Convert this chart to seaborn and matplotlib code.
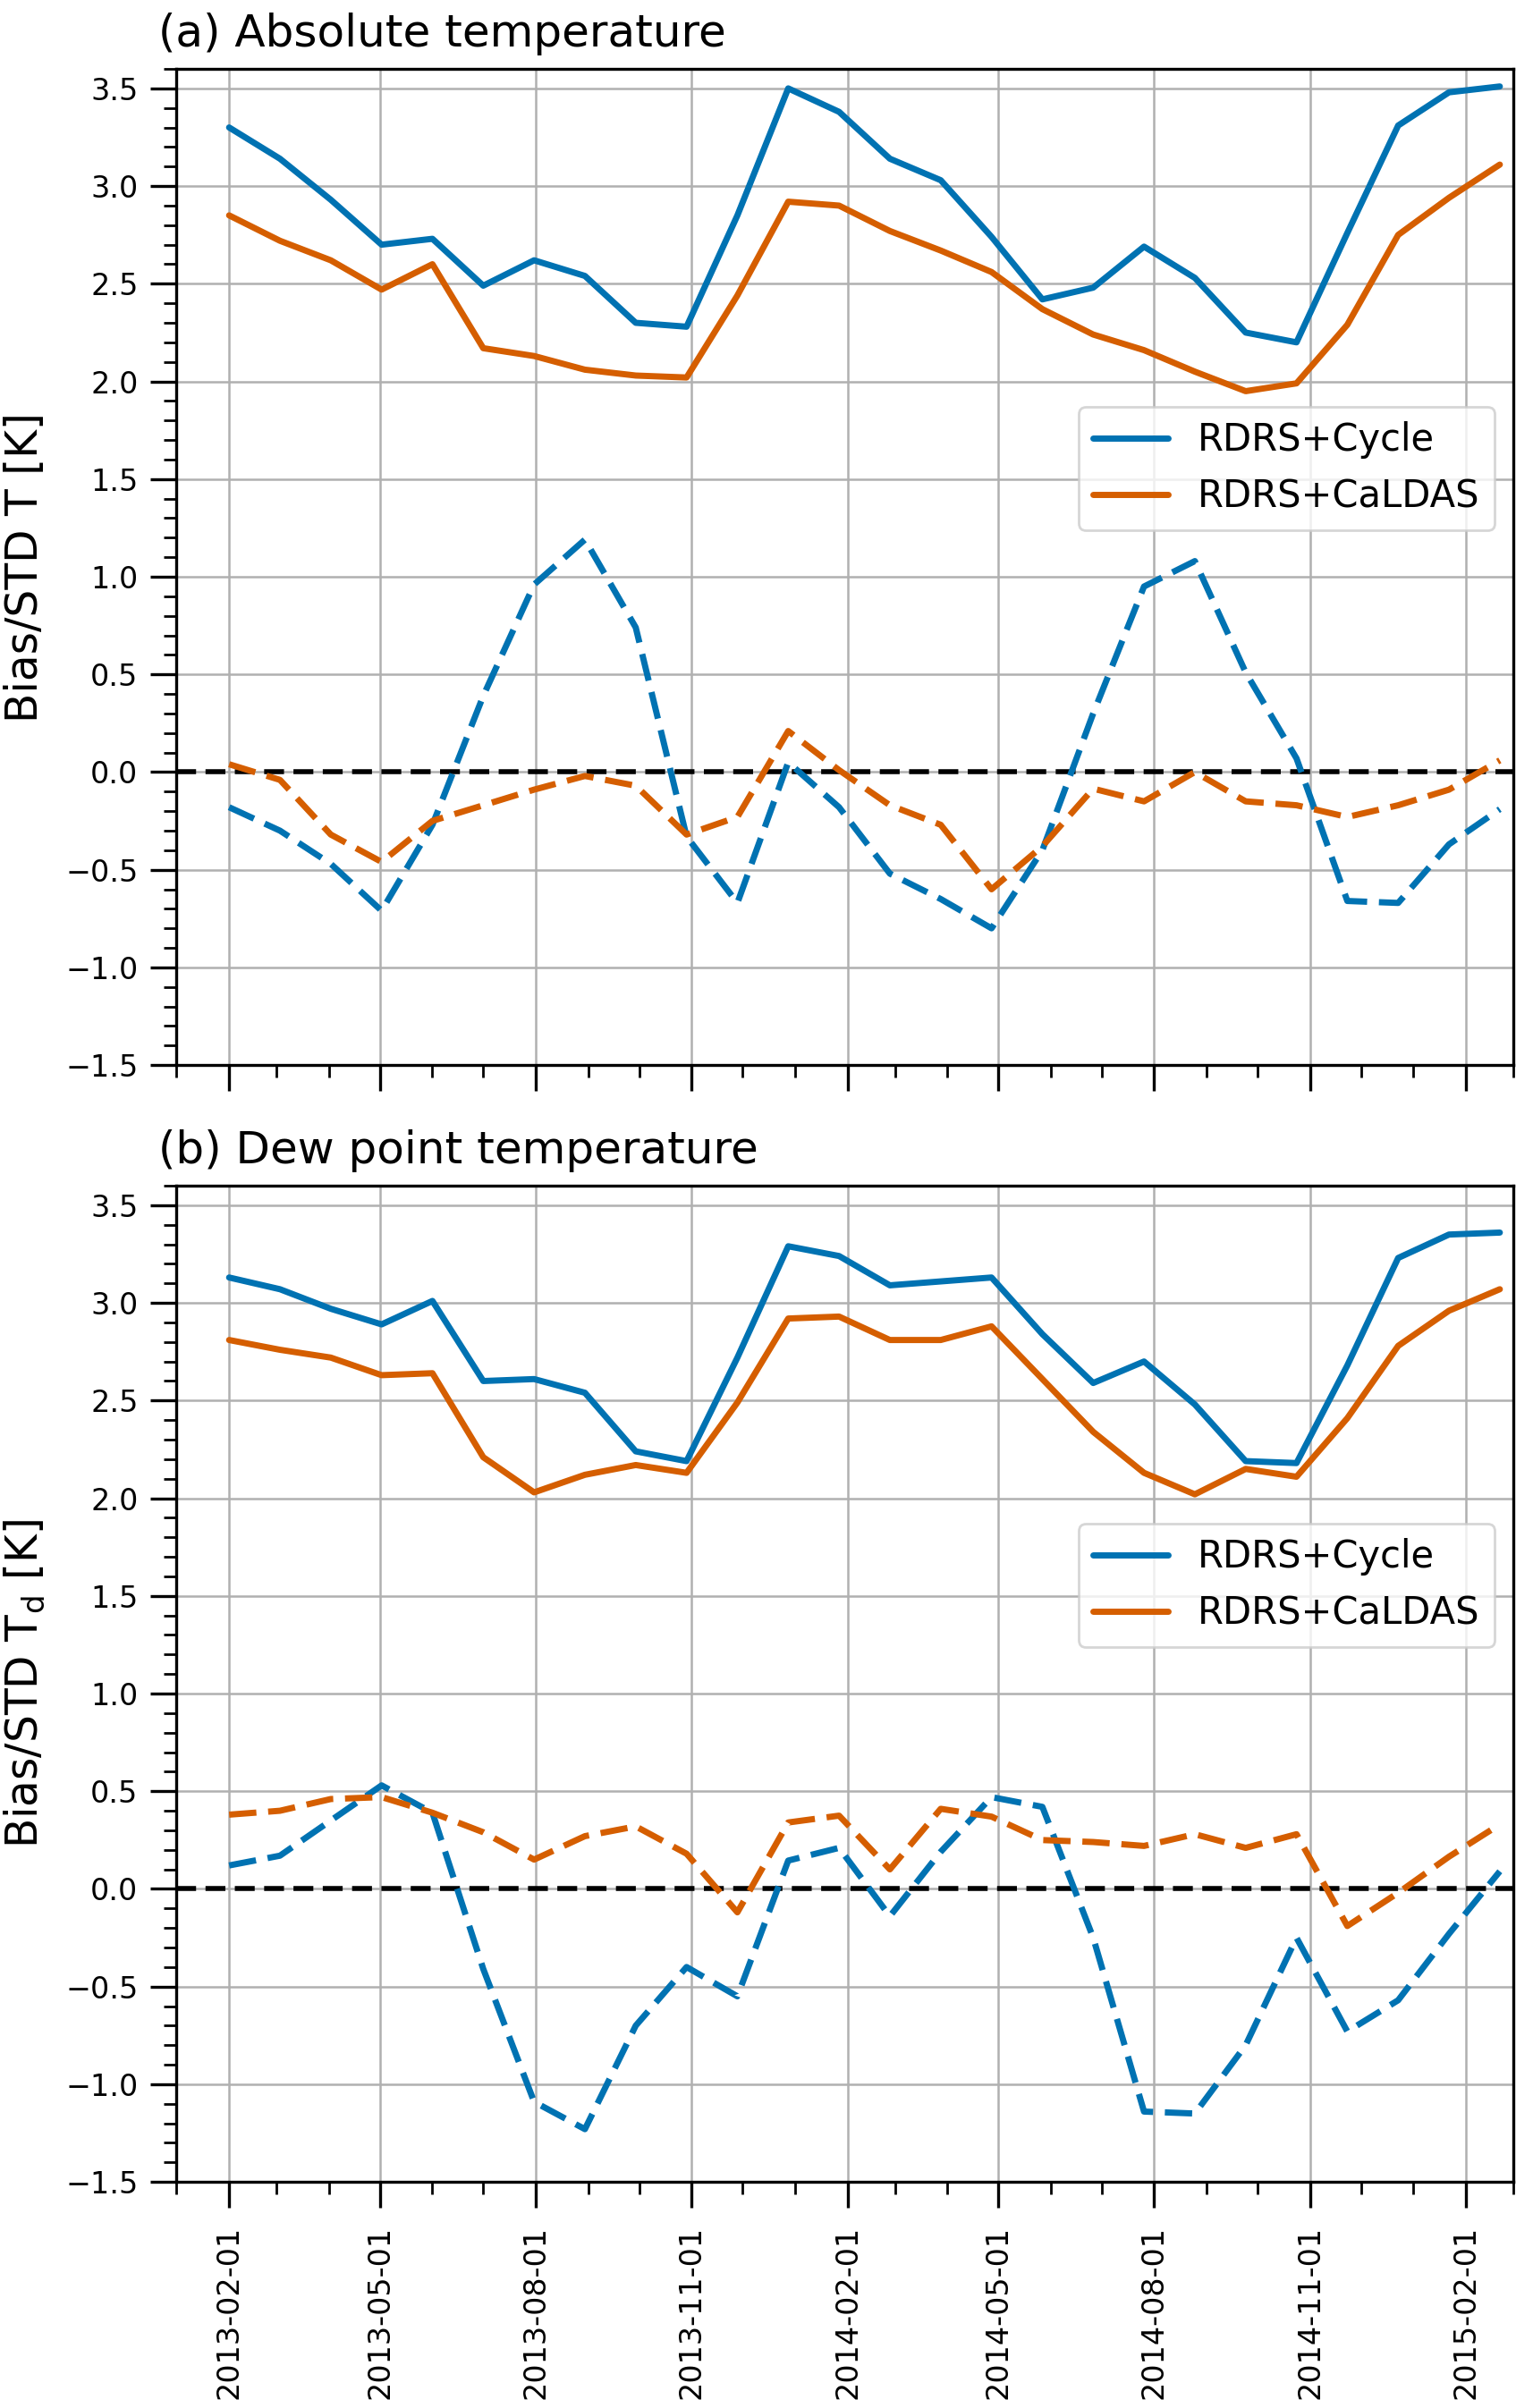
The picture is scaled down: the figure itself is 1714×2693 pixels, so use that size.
import numpy as np
import pandas as pd
import matplotlib
matplotlib.use('Agg')
import matplotlib.pyplot as plt
import matplotlib.dates as mdates
from matplotlib.ticker import MultipleLocator
import seaborn as sns

# 30-day windows starting 2013-02-01
dates = pd.date_range('2013-02-01', periods=26, freq='30D')

# (a) absolute temperature
std_t_cycle = [3.30, 3.14, 2.93, 2.70, 2.73, 2.49, 2.62, 2.54, 2.30, 2.28, 2.85, 3.50, 3.38,
               3.14, 3.03, 2.74, 2.42, 2.48, 2.69, 2.53, 2.25, 2.20, 2.76, 3.31, 3.48, 3.51]
std_t_caldas = [2.85, 2.72, 2.62, 2.47, 2.60, 2.17, 2.13, 2.06, 2.03, 2.02, 2.44, 2.92, 2.90,
                2.77, 2.67, 2.56, 2.37, 2.24, 2.16, 2.05, 1.95, 1.99, 2.29, 2.75, 2.94, 3.11]
bias_t_cycle = [-0.18, -0.30, -0.47, -0.71, -0.27, 0.39, 0.96, 1.19, 0.74, -0.33, -0.67, 0.05, -0.18,
                -0.52, -0.65, -0.80, -0.40, 0.30, 0.95, 1.08, 0.51, 0.07, -0.66, -0.67, -0.37, -0.19]
bias_t_caldas = [0.04, -0.04, -0.32, -0.46, -0.25, -0.17, -0.09, -0.02, -0.07, -0.32, -0.23, 0.21, 0.01,
                 -0.17, -0.27, -0.60, -0.38, -0.085, -0.15, 0.00, -0.15, -0.17, -0.23, -0.17, -0.09, 0.06]

# (b) dew point temperature
std_td_cycle = [3.13, 3.07, 2.97, 2.89, 3.01, 2.60, 2.61, 2.54, 2.24, 2.19, 2.72, 3.29, 3.24,
                3.09, 3.11, 3.13, 2.84, 2.59, 2.70, 2.48, 2.19, 2.18, 2.68, 3.23, 3.35, 3.36]
std_td_caldas = [2.81, 2.76, 2.72, 2.63, 2.64, 2.21, 2.03, 2.12, 2.17, 2.13, 2.49, 2.92, 2.93,
                 2.81, 2.81, 2.88, 2.61, 2.34, 2.13, 2.02, 2.15, 2.11, 2.41, 2.78, 2.96, 3.07]
bias_td_cycle = [0.12, 0.17, 0.35, 0.53, 0.39, -0.41, -1.09, -1.23, -0.70, -0.40, -0.55, 0.145, 0.21,
                 -0.14, 0.19, 0.47, 0.42, -0.25, -1.14, -1.15, -0.80, -0.25, -0.73, -0.57, -0.23, 0.09]
bias_td_caldas = [0.38, 0.40, 0.46, 0.47, 0.39, 0.29, 0.15, 0.27, 0.32, 0.18, -0.12, 0.34, 0.375,
                  0.10, 0.41, 0.37, 0.25, 0.24, 0.22, 0.28, 0.21, 0.28, -0.19, -0.02, 0.165, 0.33]

runs = ["RDRS+Cycle", "RDRS+CaLDAS"]
pal = {"RDRS+Cycle": "#0072B2", "RDRS+CaLDAS": "#D55E00"}
titles = ["(a) Absolute temperature", "(b) Dew point temperature"]
ylabels = ["Bias/STD T [K]", r"Bias/STD T$_{\rm d}$ [K]"]

sns.set_theme(style="ticks", rc={"axes.edgecolor": "black", "text.color": "black",
                                 "axes.labelcolor": "black", "xtick.color": "black",
                                 "ytick.color": "black"})
plt.rcParams['font.family'] = ['DejaVu Sans']

fig = plt.figure(figsize=(8.57, 13.465), dpi=200)
ax_a = fig.add_axes([0.1152, 0.5577, 0.872, 0.4137])
ax_b = fig.add_axes([0.1152, 0.0939, 0.872, 0.4137], sharex=ax_a)

panels = [
    (ax_a, [std_t_cycle, std_t_caldas], [bias_t_cycle, bias_t_caldas]),
    (ax_b, [std_td_cycle, std_td_caldas], [bias_td_cycle, bias_td_caldas]),
]

lw = 2.5
for i, (ax, stds, biases) in enumerate(panels):
    ax.grid(True, which='major', color='#b0b0b0', linewidth=0.9)
    ax.set_axisbelow(True)
    ax.axhline(0, color='black', linewidth=2.0, linestyle=(0, (4.0, 1.9)), zorder=1.5)
    for run, vals in zip(runs, stds):
        sns.lineplot(x=dates, y=vals, ax=ax, color=pal[run], linewidth=lw, label=run, zorder=2)
    for run, vals in zip(runs, biases):
        sns.lineplot(x=dates, y=vals, ax=ax, color=pal[run], linewidth=lw,
                     linestyle=(0, (4.4, 1.9)), label='_nolegend_', zorder=2)
    for line in ax.get_lines()[1:]:
        line.set_linewidth(lw)

    ax.set_ylim(-1.5, 3.6)
    ax.set_xlim(pd.Timestamp('2013-01-01'), pd.Timestamp('2015-03-01'))
    ax.yaxis.set_major_locator(MultipleLocator(0.5))
    ax.yaxis.set_minor_locator(MultipleLocator(0.1))
    ax.xaxis.set_major_locator(mdates.MonthLocator(bymonth=[2, 5, 8, 11]))
    ax.xaxis.set_minor_locator(mdates.MonthLocator())
    ax.xaxis.set_major_formatter(mdates.DateFormatter('%Y-%m-%d'))
    ax.tick_params(axis='both', which='major', length=10.5, width=1.2, labelsize=12)
    ax.tick_params(axis='both', which='minor', length=5, width=1.0)
    ax.tick_params(axis='y', which='major', pad=5)
    ax.tick_params(axis='x', which='major', pad=7, labelrotation=90)
    for sp in ax.spines.values():
        sp.set_linewidth(1.2)
        sp.set_color('black')

    ax.set_xlabel('')
    ax.set_ylabel(ylabels[i], fontsize=17.5)
    ax.yaxis.set_label_coords(-0.097, 0.5)
    ax.text(-0.0135, 1.0224, titles[i], transform=ax.transAxes, fontsize=18,
            ha='left', va='baseline')

    handles, labels = ax.get_legend_handles_labels()
    leg = ax.legend(handles=handles[:2], labels=labels[:2], fontsize=15, loc='upper right',
                    bbox_to_anchor=(0.986, 0.661), borderaxespad=0, framealpha=0.8,
                    edgecolor='0.8')
    for h in leg.get_lines():
        h.set_linewidth(lw)

ax_a.tick_params(axis='x', which='both', labelbottom=False)

fig.savefig('out.png', dpi=200)
